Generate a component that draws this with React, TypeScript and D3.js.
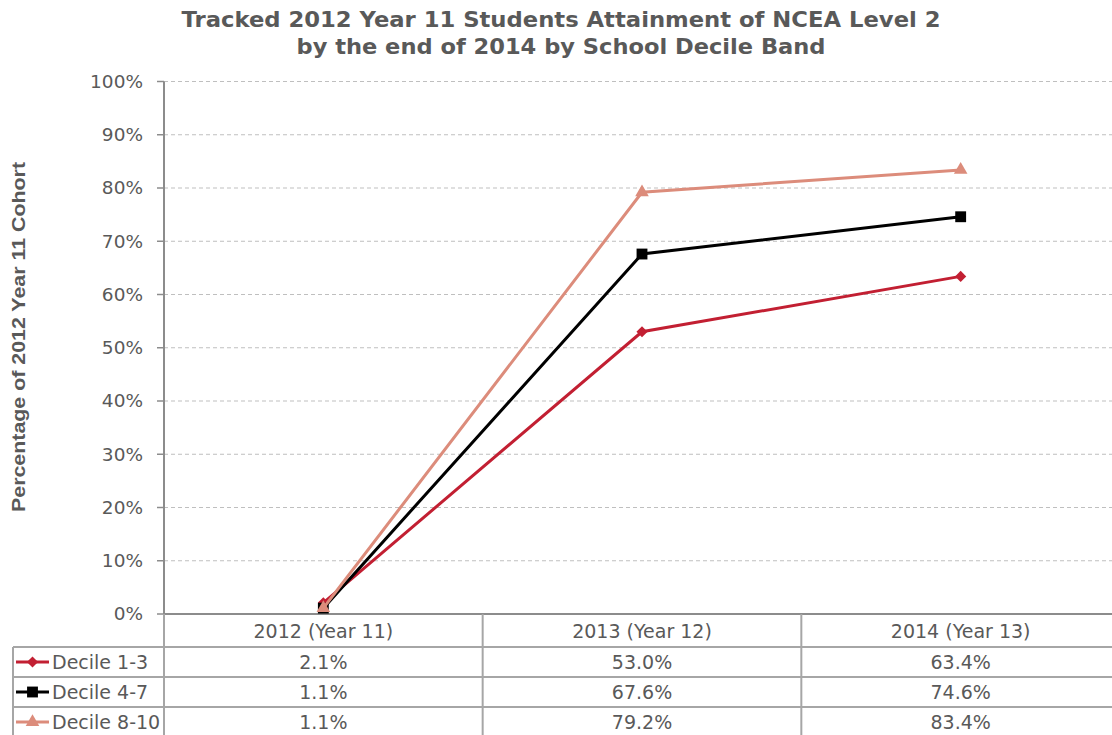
import React from "react";
import * as d3 from "d3";

const categories = ["2012 (Year 11)", "2013 (Year 12)", "2014 (Year 13)"];
const seriesNames = ["Decile 1-3", "Decile 4-7", "Decile 8-10"];
const decile13 = [2.1, 53.0, 63.4];
const decile47 = [1.1, 67.6, 74.6];
const decile810 = [1.1, 79.2, 83.4];
const yTicks = [0, 10, 20, 30, 40, 50, 60, 70, 80, 90, 100];
const titleLines = [
  "Tracked 2012 Year 11 Students Attainment of NCEA Level 2",
  "by the end of 2014 by School Decile Band",
];
const yTitle = "Percentage of 2012 Year 11 Cohort";

const colors = ["#C21F32", "#000000", "#DC8C7B"];
const shapes = [d3.symbolSquare, d3.symbolSquare, d3.symbolTriangle];
const shapeSizes = [62, 118, 80];
const shapeRot = [45, 0, 0];

const W = 1112;
const H = 735;
const left = 164;
const right = 1120;
const top = 81.5;
const bottom = 614;
const rowH = 30;
const tableLeft = 13;

const font = "'DejaVu Sans', Verdana, sans-serif";
const textCol = "#595959";
const gridCol = "#BFBFBF";
const axisCol = "#8C8C8C";
const tableCol = "#A6A6A6";

export default function App() {
  const series = [decile13, decile47, decile810];
  const x = d3.scaleBand<string>().domain(categories).range([left, right]);
  const y = d3.scaleLinear().domain([0, 100]).range([bottom, top]);
  const cx = (c: string) => (x(c) as number) + x.bandwidth() / 2;
  const line = d3
    .line<number>()
    .x((_, i) => cx(categories[i]))
    .y((d) => y(d));

  const rowsTop = bottom + 33;
  const titleLens = [759, 529];

  return (
    <svg
      width={W}
      height={H}
      style={{ position: "absolute", left: 0, top: 0, background: "#fff" }}
    >
      {titleLines.map((t, i) => (
        <text
          key={t}
          x={561}
          y={27 + i * 27}
          textAnchor="middle"
          fontFamily={font}
          fontWeight="bold"
          fontSize={20.5}
          fill={textCol}
          textLength={titleLens[i]}
          lengthAdjust="spacingAndGlyphs"
        >
          {t}
        </text>
      ))}
      <text
        transform={`translate(25,${337}) rotate(-90)`}
        textAnchor="middle"
        fontFamily="'Liberation Sans', Arial, sans-serif"
        fontWeight="bold"
        fontSize={18}
        fill={textCol}
        textLength={350}
        lengthAdjust="spacingAndGlyphs"
      >
        {yTitle}
      </text>
      {yTicks.map((t) => (
        <g key={t}>
          {t > 0 && (
            <line
              x1={left}
              x2={right}
              y1={y(t)}
              y2={y(t)}
              stroke={gridCol}
              strokeWidth={1}
              strokeDasharray="4,3"
            />
          )}
          <line x1={left - 7} x2={left} y1={y(t)} y2={y(t)} stroke={axisCol} strokeWidth={1.5} />
          <text
            x={143}
            y={y(t)}
            dy="0.35em"
            textAnchor="end"
            fontFamily={font}
            fontSize={18.5}
            fill={textCol}
          >
            {t}%
          </text>
        </g>
      ))}
      <line x1={left} x2={left} y1={top} y2={bottom} stroke={axisCol} strokeWidth={2} />
      <g stroke={tableCol} strokeWidth={2} fill="none">
        <line x1={left} x2={right} y1={bottom} y2={bottom} stroke={axisCol} />
        {categories.map((c) => (
          <line key={c} x1={x(c) as number} x2={x(c) as number} y1={bottom} y2={H + 5} />
        ))}
        {seriesNames.map((s, i) => (
          <line key={s} x1={tableLeft} x2={right} y1={rowsTop + i * rowH} y2={rowsTop + i * rowH} />
        ))}
        <line x1={tableLeft} x2={tableLeft} y1={rowsTop} y2={H + 5} />
      </g>
      {categories.map((c) => (
        <text
          key={c}
          x={cx(c)}
          y={bottom + 17}
          dy="0.35em"
          textAnchor="middle"
          fontFamily={font}
          fontSize={19}
          fill={textCol}
        >
          {c}
        </text>
      ))}
      {seriesNames.map((s, si) => {
        const ry = rowsTop + si * rowH + rowH / 2;
        return (
          <g key={s}>
            <line x1={16} x2={49} y1={ry} y2={ry} stroke={colors[si]} strokeWidth={3} />
            <path
              d={d3.symbol().type(shapes[si]).size(shapeSizes[si])() as string}
              transform={`translate(32.5,${ry}) rotate(${shapeRot[si]})`}
              fill={colors[si]}
            />
            <text x={52} y={ry} dy="0.35em" fontFamily={font} fontSize={19} fill={textCol}>
              {s}
            </text>
            {series[si].map((v, i) => (
              <text
                key={i}
                x={cx(categories[i])}
                y={ry}
                dy="0.35em"
                textAnchor="middle"
                fontFamily={font}
                fontSize={19}
                fill={textCol}
              >
                {v.toFixed(1)}%
              </text>
            ))}
          </g>
        );
      })}
      {series.map((vals, si) => (
        <g key={si}>
          <path d={line(vals) as string} fill="none" stroke={colors[si]} strokeWidth={3} />
          {vals.map((v, i) => (
            <path
              key={i}
              d={d3.symbol().type(shapes[si]).size(shapeSizes[si])() as string}
              transform={`translate(${cx(categories[i])},${y(v)}) rotate(${shapeRot[si]})`}
              fill={colors[si]}
            />
          ))}
        </g>
      ))}
    </svg>
  );
}
